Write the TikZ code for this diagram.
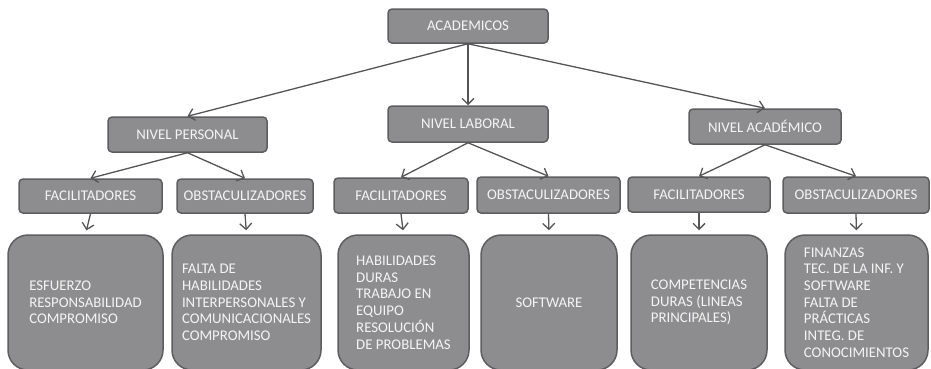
\documentclass[tikz,border=0pt]{standalone}
\usepackage{fontspec}
\setmainfont{Carlito}
\usetikzlibrary{arrows.meta}

\definecolor{boxfill}{HTML}{8D8D8F}
\definecolor{boxline}{HTML}{5E5E60}
\definecolor{boxtext}{HTML}{F4F4F4}
\definecolor{linkcol}{HTML}{555557}

\tikzset{
    box/.style = {draw = boxline, fill = boxfill, line width = 1.5pt, rounded corners = 4pt,
                  text = boxtext, font = {\fontsize{14.8}{16}\selectfont}, inner sep = 0pt},
    leaf/.style = {box, rounded corners = 20pt, minimum height = 135pt, align = left,
                   font = {\fontsize{14.8}{16.7}\selectfont}},
    link/.style = {draw = linkcol, line width = 1.3pt, -{Straight Barb[length=6pt,width=12pt]}}
}

\begin{document}
\begin{tikzpicture}[x=1pt, y=-1pt]
        \useasboundingbox[fill=white] (0,0) rectangle (931,368);
        % top
        \node[box, minimum width = 160pt, minimum height = 34pt] (acad) at (468, 26) {ACADEMICOS};
        % levels
        \node[box, minimum width = 159pt, minimum height = 35pt] (npers) at (187.5, 134.5) {NIVEL PERSONAL};
        \node[box, minimum width = 160pt, minimum height = 36pt] (nlab) at (468, 124) {NIVEL LABORAL};
        \node[box, minimum width = 152pt, minimum height = 35pt] (nacad) at (765, 126.5) {NIVEL ACADÉMICO};
        % facilitadores / obstaculizadores
        \node[box, minimum width = 143pt, minimum height = 34pt] (fac1) at (90.5, 196) {FACILITADORES};
        \node[box, minimum width = 136pt, minimum height = 34pt] (obs1) at (245, 196) {OBSTACULIZADORES};
        \node[box, minimum width = 134pt, minimum height = 35pt] (fac2) at (401, 195.5) {FACILITADORES};
        \node[box, minimum width = 143pt, minimum height = 36pt] (obs2) at (548.5, 195) {OBSTACULIZADORES};
        \node[box, minimum width = 142pt, minimum height = 35pt] (fac3) at (699, 194.5) {FACILITADORES};
        \node[box, minimum width = 146pt, minimum height = 36pt] (obs3) at (856, 195) {OBSTACULIZADORES};
        % leaves
        \node[leaf, minimum width = 155pt] (l1) at (85.5, 302.5) {ESFUERZO\\RESPONSABILIDAD\\COMPROMISO};
        \node[leaf, minimum width = 149pt] (l2) at (246.5, 302.5) {FALTA DE\\HABILIDADES\\INTERPERSONALES Y\\COMUNICACIONALES\\COMPROMISO};
        \node[leaf, minimum width = 131pt] (l3) at (403.5, 302.5) {HABILIDADES\\DURAS\\TRABAJO EN\\EQUIPO\\RESOLUCIÓN\\DE PROBLEMAS};
        \node[leaf, minimum width = 136pt] (l4) at (549, 302.5) {SOFTWARE};
        \node[leaf, minimum width = 136pt] (l5) at (699, 302.5) {COMPETENCIAS\\DURAS (LINEAS\\PRINCIPALES)};
        \node[leaf, minimum width = 143pt] (l6) at (856.5, 302.5) {FINANZAS\\TEC. DE LA INF. Y\\SOFTWARE\\FALTA DE\\PRÁCTICAS\\INTEG. DE\\CONOCIMIENTOS};
        % links
        \draw[link] (acad.south) -- (npers.north);
        \draw[link] (acad.south) -- (nlab.north);
        \draw[link] (acad.south) -- (nacad.north);
        \draw[link] (npers.south) -- (fac1.north);
        \draw[link] (npers.south) -- (obs1.north);
        \draw[link] (nlab.south) -- (fac2.north);
        \draw[link] (nlab.south) -- (obs2.north);
        \draw[link] (nacad.south) -- (fac3.north);
        \draw[link] (nacad.south) -- (obs3.north);
        \draw[link, shorten >= 4pt] (fac1.south) -- (l1.north);
        \draw[link, shorten >= 4pt] (obs1.south) -- (l2.north);
        \draw[link, shorten >= 4pt] (fac2.south) -- (l3.north);
        \draw[link, shorten >= 4pt] (obs2.south) -- (l4.north);
        \draw[link, shorten >= 4pt] (fac3.south) -- (l5.north);
        \draw[link, shorten >= 4pt] (obs3.south) -- (l6.north);
    \end{tikzpicture}
\end{document}
